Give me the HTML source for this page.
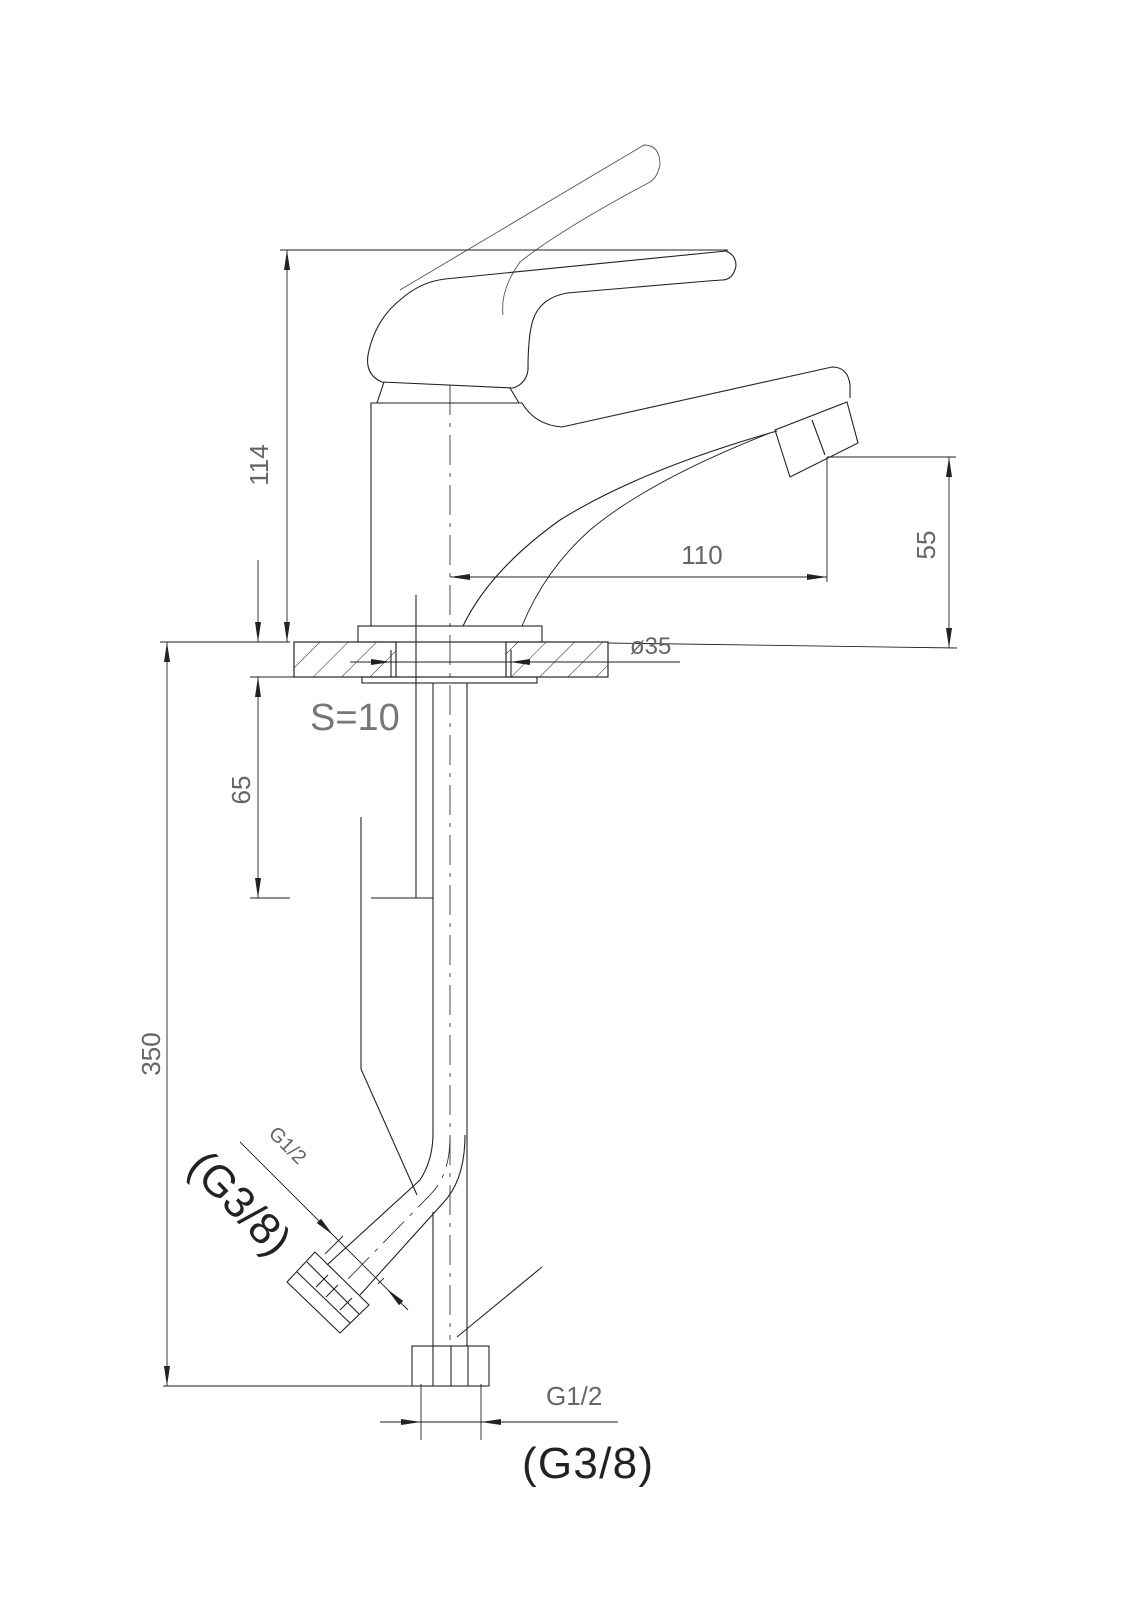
<!DOCTYPE html>
<html><head><meta charset="utf-8"><style>html,body{margin:0;padding:0;background:#fff}svg{display:block}</style></head>
<body>
<svg width="1131" height="1600" viewBox="0 0 1131 1600" xmlns="http://www.w3.org/2000/svg" font-family="Liberation Sans, sans-serif">
<defs>
<pattern id="h" patternUnits="userSpaceOnUse" width="20" height="20" patternTransform="rotate(45)">
<line x1="0" y1="0" x2="0" y2="20" stroke="#222" stroke-width="1"/>
</pattern>
<marker id="a" viewBox="0 0 20 8" refX="20" refY="4" markerWidth="20" markerHeight="8" markerUnits="userSpaceOnUse" orient="auto-start-reverse"><path d="M0,1 L20,4 L0,7 z" fill="#222"/></marker>
</defs>
<g fill="none" stroke="#222" stroke-width="1.1">
<!-- raised lever (thin) -->
<path d="M400,290 L644,145 Q660,145 660,165 Q657,178 650,182 Q560,230 520,262 Q500,290 503,315" stroke="#555" stroke-width="0.9"/>
<!-- lever -->
<path d="M382,382 Q365,375 368,355 Q375,320 400,300 Q420,282 445,279 L726,251 Q736,255 736,266 Q733,280 722,280 L708,281 L567,293 Q540,298 533,320 Q528,335 528,370 Q526,384 513,388 Z"/>
<path d="M384,382 L377,403 M510,388 L519,403"/>
<!-- body + spout -->
<path d="M371,626 L371,403 L522,403 Q535,425 562,427 L832,367 Q848,367 850,385 L850,398"/>
<path d="M775,430 L790,477 L858,443 L847,402 Z"/>
<path d="M812,420 L825,455"/>
<path d="M777,431 Q640,470 560,520 Q490,570 463,626"/>
<path d="M770,433 Q650,480 590,530 Q545,570 522,626" stroke-width="0.9"/>
<!-- flange -->
<rect x="358" y="626" width="184" height="16"/>
<!-- deck hatched -->
<rect x="294" y="642" width="102" height="35" fill="url(#h)"/>
<rect x="506" y="642" width="102" height="35" fill="url(#h)"/>
<rect x="294" y="642" width="314" height="35"/>
<line x1="396" y1="642" x2="396" y2="677"/>
<line x1="506" y1="642" x2="506" y2="677"/>
<line x1="391" y1="650" x2="391" y2="677"/>
<line x1="511" y1="650" x2="511" y2="677"/>
<rect x="362" y="677" width="175" height="6"/>
<!-- pipes -->
<line x1="416" y1="595" x2="416" y2="898"/>
<line x1="371" y1="898" x2="433" y2="898"/>
<path d="M433,683 L433,1133 Q433,1160 420,1180 L327,1265"/>
<path d="M467,683 L467,1346"/>
<path d="M465,1135 Q465,1180 443,1203 L360,1295"/>
<line x1="433" y1="1212" x2="433" y2="1346"/>
<path d="M450,1137 Q450,1175 430,1195 L345,1282" stroke-dasharray="30,8,4,8" stroke-width="0.8"/>
<line x1="361" y1="817" x2="361" y2="1069"/>
<line x1="361" y1="1069" x2="417" y2="1195"/>
<line x1="457" y1="1337" x2="542" y2="1267"/>
<!-- angled nut -->
<path d="M287,1282 L315,1252 L369,1305 L340,1333 Z"/>
<path d="M297,1272 L350,1323 M307,1262 L359,1314"/>
<path d="M326,1297 L338,1285 M316,1287 L328,1275 M340,1310 L352,1298"/>
<!-- bottom nut -->
<rect x="412" y="1346" width="77" height="40"/>
<path d="M433,1346 V1386 M451,1346 V1386 M468,1346 V1386"/>
<!-- centerline -->
<line x1="450" y1="385" x2="450" y2="1340" stroke-dasharray="30,8,4,8" stroke-width="0.8"/>
</g>
<g fill="none" stroke="#222" stroke-width="0.9">
<!-- 114 -->
<line x1="280" y1="250" x2="728" y2="250"/>
<line x1="287" y1="250" x2="287" y2="642" marker-start="url(#a)" marker-end="url(#a)"/>
<line x1="160" y1="642" x2="290" y2="642"/>
<line x1="258" y1="560" x2="258" y2="642" marker-end="url(#a)"/>
<line x1="258" y1="677" x2="258" y2="898" marker-start="url(#a)" marker-end="url(#a)"/>
<line x1="250" y1="677" x2="300" y2="677"/>
<line x1="250" y1="898" x2="290" y2="898"/>
<!-- 350 -->
<line x1="167" y1="642" x2="167" y2="1386" marker-start="url(#a)" marker-end="url(#a)"/>
<line x1="163" y1="1386" x2="412" y2="1386"/>
<!-- 110 -->
<line x1="450" y1="577" x2="827" y2="577" marker-start="url(#a)" marker-end="url(#a)"/>
<line x1="827" y1="457" x2="827" y2="582"/>
<!-- 55 -->
<line x1="827" y1="457" x2="956" y2="457"/>
<line x1="949" y1="457" x2="949" y2="648" marker-start="url(#a)" marker-end="url(#a)"/>
<line x1="608" y1="643" x2="957" y2="648"/>
<!-- s=10 -->
<line x1="350" y1="662" x2="391" y2="662" marker-end="url(#a)"/>
<line x1="391" y1="662" x2="510" y2="662"/>
<line x1="680" y1="662" x2="510" y2="662" marker-end="url(#a)"/>
<!-- angled G1/2 -->
<line x1="240" y1="1142" x2="333" y2="1235" marker-end="url(#a)"/>
<line x1="408" y1="1310" x2="387" y2="1289" marker-end="url(#a)"/>
<line x1="333" y1="1235" x2="387" y2="1289"/>
<line x1="343" y1="1236" x2="325" y2="1254"/>
<line x1="384" y1="1278" x2="378" y2="1284"/>
<!-- bottom G1/2 -->
<line x1="380" y1="1422" x2="421" y2="1422" marker-end="url(#a)"/>
<line x1="618" y1="1422" x2="481" y2="1422" marker-end="url(#a)"/>
<line x1="421" y1="1422" x2="481" y2="1422"/>
<line x1="421" y1="1384" x2="421" y2="1440"/>
<line x1="481" y1="1384" x2="481" y2="1440"/>
</g>
<g fill="#666" font-size="26">
<text x="268" y="465" transform="rotate(-90 268 465)" text-anchor="middle">114</text>
<text x="935" y="545" transform="rotate(-90 935 545)" text-anchor="middle">55</text>
<text x="250" y="790" transform="rotate(-90 250 790)" text-anchor="middle">65</text>
<text x="160" y="1054" transform="rotate(-90 160 1054)" text-anchor="middle">350</text>
<text x="702" y="564" text-anchor="middle">110</text>
<text x="630" y="654" font-size="24">ø35</text>
<text x="310" y="730" font-size="38" fill="#777">S=10</text>
<text x="546" y="1405" font-size="26">G1/2</text>
<text x="283" y="1150" font-size="20" transform="rotate(45 283 1150)" text-anchor="middle">G1/2</text>
</g>
<g fill="#222">
<text x="522" y="1478" font-size="44" textLength="131">(G3/8)</text>
<text x="240" y="1218" font-size="44" text-anchor="middle" transform="rotate(46 240 1203)">(G3/8)</text>
</g>
</svg>
</body></html>
